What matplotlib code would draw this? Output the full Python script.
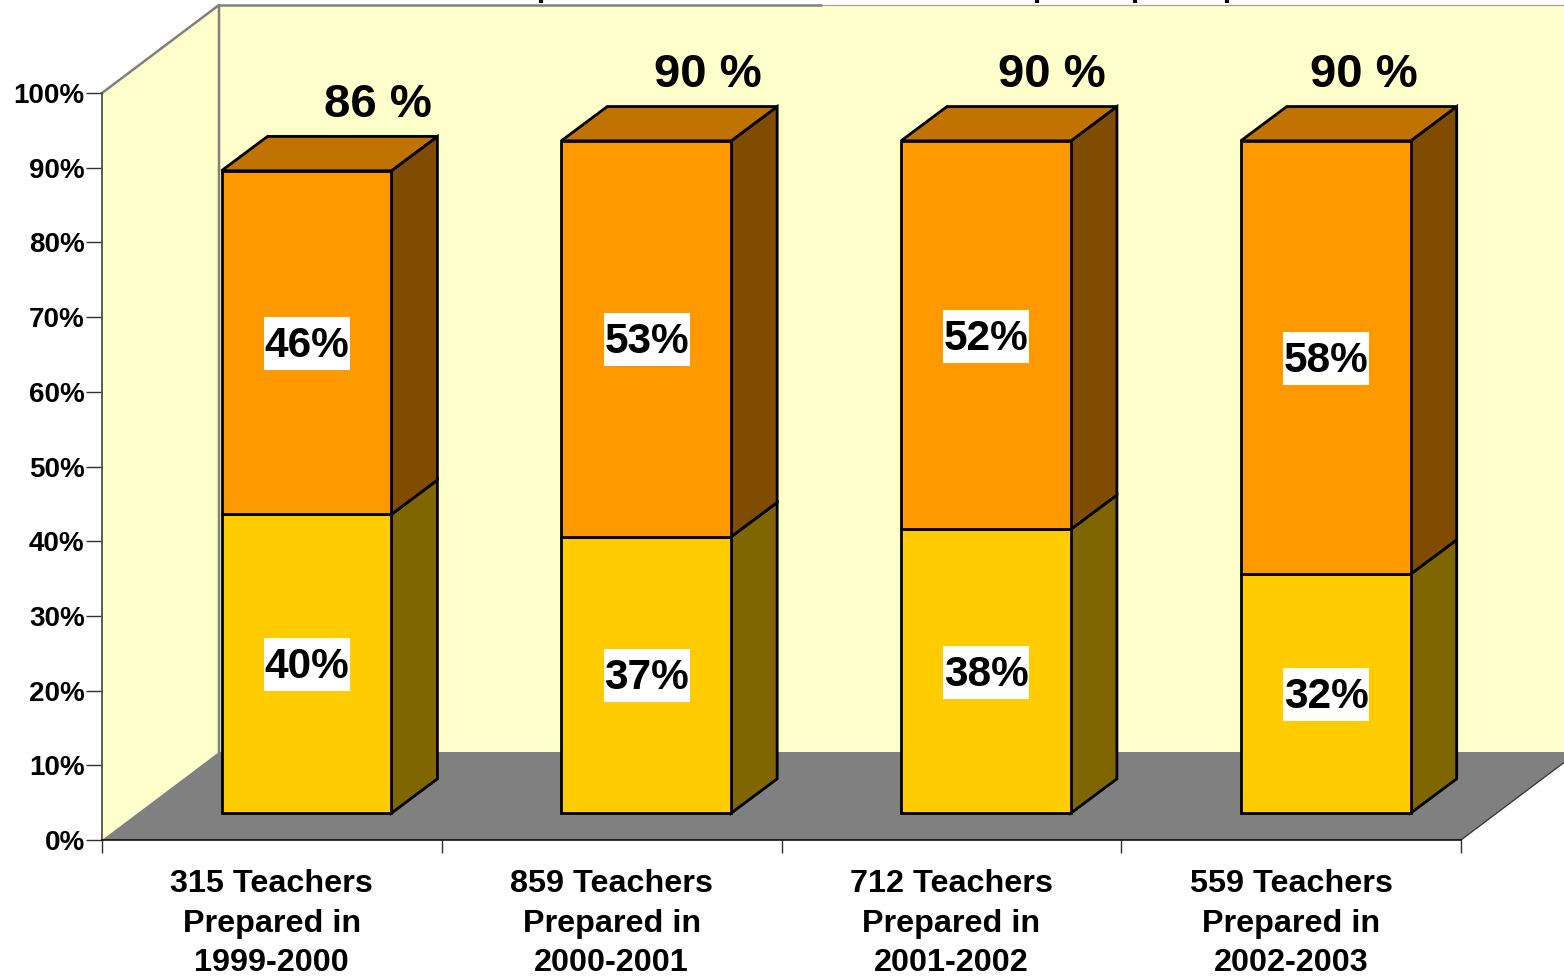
import matplotlib
matplotlib.use("Agg")
import matplotlib.pyplot as plt
from matplotlib.patches import Polygon, Rectangle

plt.rcParams['font.family'] = ['Liberation Sans', 'DejaVu Sans']
plt.rcParams['font.weight'] = 'bold'

categories = ["315 Teachers\nPrepared in\n1999-2000",
              "859 Teachers\nPrepared in\n2000-2001",
              "712 Teachers\nPrepared in\n2001-2002",
              "559 Teachers\nPrepared in\n2002-2003"]
lower_values = [40, 37, 38, 32]
upper_values = [46, 53, 52, 58]
total_labels = ["86 %", "90 %", "90 %", "90 %"]
y_ticks = [0, 10, 20, 30, 40, 50, 60, 70, 80, 90, 100]

W, H = 1564, 977
# plot box in pixels
LEFT, RIGHT, TOP, BOTTOM = 102, 1461, 93, 840
UX = (RIGHT - LEFT) / 4.0      # pixels per category
UY = (BOTTOM - TOP) / 100.0    # pixels per percent
DEPTH_X = 117 / UX             # full chart depth in data units
DEPTH_Y = 88 / UY
BAR_W = 0.5
D_FRONT = 0.305                # bar front/back as fraction of depth
D_BACK = 0.695
SHIFT_X = 34.6 / UX            # sideways shift of the bar fronts
LW = 2.0

fig = plt.figure(figsize=(W / 100, H / 100), dpi=100)
ax = fig.add_axes([LEFT / W, 1 - BOTTOM / H, (RIGHT - LEFT) / W, (BOTTOM - TOP) / H])
ax.set_xlim(0, 4)
ax.set_ylim(0, 100)
ax.patch.set_visible(False)


def poly(points, color, edge="none", lw=0, z=1):
    ax.add_patch(Polygon(points, closed=True, facecolor=color, edgecolor=edge,
                         linewidth=lw, zorder=z, clip_on=False, joinstyle="miter"))


# walls and floor
wall = "#FFFFCC"
grid = "#808080"
x_max = 4 + DEPTH_X
y_max = 100 + DEPTH_Y
poly([(0, 0), (DEPTH_X, DEPTH_Y), (DEPTH_X, y_max), (0, 100)], wall)
poly([(DEPTH_X, DEPTH_Y), (x_max, DEPTH_Y), (x_max, y_max), (DEPTH_X, y_max)], wall)
poly([(0, 0), (4, 0), (x_max, DEPTH_Y), (DEPTH_X, DEPTH_Y)], grid)
ax.plot([0, DEPTH_X, DEPTH_X], [100, y_max, DEPTH_Y], color=grid, lw=1.8, clip_on=False, zorder=1.5)
ax.plot([DEPTH_X, (822 - LEFT) / UX], [y_max, y_max], color=grid, lw=1.8,
        clip_on=False, zorder=1.5, solid_capstyle="butt")
ax.plot([(822 - LEFT) / UX, x_max], [y_max, y_max], color="#A8A89A", lw=0.9, clip_on=False, zorder=1.5)
ax.plot([4, x_max], [0, DEPTH_Y], color="#303030", lw=0.9, clip_on=False, zorder=1.5)

# bars
for i in range(4):
    x0 = i + 0.5 - BAR_W / 2 + SHIFT_X
    x1 = x0 + BAR_W
    ox = 46 / UX
    oy = (D_BACK - D_FRONT) * DEPTH_Y
    base = D_FRONT * DEPTH_Y
    y1 = base + lower_values[i]
    y2 = y1 + upper_values[i]
    xc = (x0 + x1) / 2

    poly([(x1, base), (x1 + ox, base + oy), (x1 + ox, y1 + oy), (x1, y1)], "#806600", "black", LW, 3)
    poly([(x1, y1), (x1 + ox, y1 + oy), (x1 + ox, y2 + oy), (x1, y2)], "#804D00", "black", LW, 3)
    poly([(x0, y2), (x1, y2), (x1 + ox, y2 + oy), (x0 + ox, y2 + oy)], "#C07300", "black", LW, 3)
    ax.add_patch(Rectangle((x0, base), BAR_W, lower_values[i], facecolor="#FFCC00", edgecolor="black",
                           linewidth=LW, zorder=3.1, clip_on=False))
    ax.add_patch(Rectangle((x0, y1), BAR_W, upper_values[i], facecolor="#FF9900", edgecolor="black",
                           linewidth=LW, zorder=3.1, clip_on=False))

    # white label boxes, 86x53 px, centred on each segment
    for mid, val in [((base + y1) / 2, lower_values[i]), ((y1 + y2) / 2, upper_values[i])]:
        ax.add_patch(Rectangle((xc + 0.5 / UX - 43 / UX, mid - 27.5 / UY), 86 / UX, 53 / UY, facecolor="white",
                               edgecolor="none", zorder=3.5, clip_on=False))
        ax.text(xc + 0.5 / UX, mid - 3.5 / UY, "%d%%" % val, ha="center", va="center", fontsize=30.5, zorder=4)

# totals sit off-centre above each bar
label_shift = [71.5, 61.5, 65.5, 38]
for i in range(4):
    xc = i + 0.5 + SHIFT_X + label_shift[i] / UX
    top = D_FRONT * DEPTH_Y + lower_values[i] + upper_values[i]
    ax.text(xc, top + 66 / UY, total_labels[i], ha="center", va="center", fontsize=34, zorder=4, clip_on=False)

# bits of a cropped title along the top edge
for px in [541, 1037, 1135, 1227]:
    ax.plot([(px - LEFT) / UX] * 2, [100 + (TOP - 0) / UY, 100 + (TOP - 3) / UY], color="black", lw=3,
            clip_on=False, solid_capstyle="butt")

# axes
for s in ["top", "right"]:
    ax.spines[s].set_visible(False)
ax.spines["left"].set_color("#505050")
ax.spines["left"].set_linewidth(1.3)
ax.spines["bottom"].set_color("black")
ax.spines["bottom"].set_linewidth(1.1)
ax.spines["left"].set_zorder(2)
ax.spines["bottom"].set_zorder(2)

ax.set_yticks(y_ticks)
ax.set_yticklabels(["%d%%" % v for v in y_ticks], fontsize=20)
ax.tick_params(axis="y", length=11.5, width=1.0, pad=1, color="#303030")
ax.set_xticks([0, 1, 2, 3, 4])
ax.set_xticklabels([])
ax.tick_params(axis="x", which="major", length=9.4, width=1.0, color="#303030")
ax.set_xticks([0.5, 1.5, 2.5, 3.5], minor=True)
ax.set_xticklabels(categories, minor=True, fontsize=23.3, linespacing=1.41)
ax.tick_params(axis="x", which="minor", length=0, pad=21.2)

fig.savefig("out.png", dpi=100)
